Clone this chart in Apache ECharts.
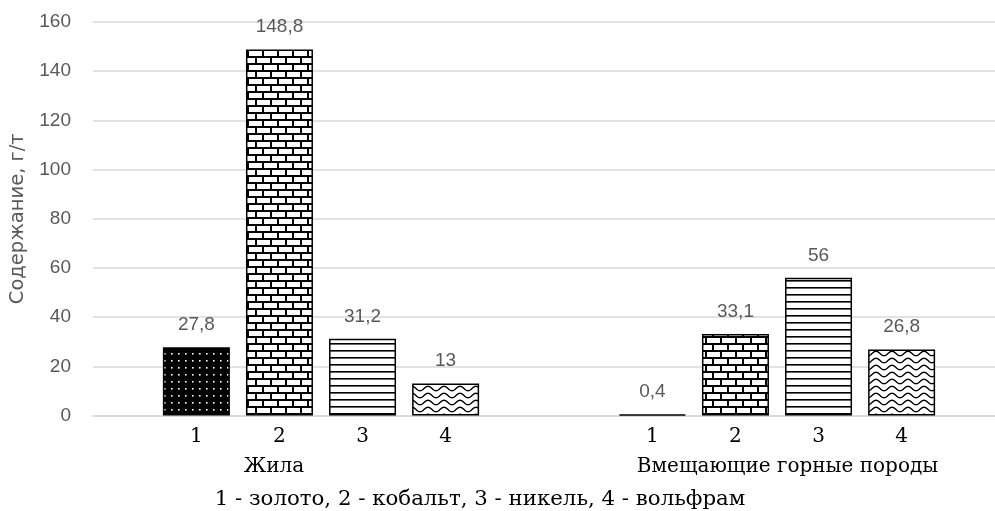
<!DOCTYPE html>
<html>
<head>
<meta charset="utf-8">
<script src="https://cdn.jsdelivr.net/npm/echarts@6/dist/echarts.min.js"></script>
<style>
  html, body { margin: 0; padding: 0; background: #fff; overflow: hidden; }
  #chart { width: 995px; height: 511px; }
</style>
</head>
<body>
<div id="chart"></div>
<script>
// Groups along the x axis and the element index shown under each bar
const groups = ['Жила', 'Вмещающие горные породы'];
const elements = ['1', '2', '3', '4'];
// Content, g/t, per element: [Жила, Вмещающие горные породы]
const gold = [27.8, 0.4];
const cobalt = [148.8, 33.1];
const nickel = [31.2, 56];
const tungsten = [13, 26.8];
const yTicks = { min: 0, max: 160, interval: 20 };
const caption = '1 - золото, 2 - кобальт, 3 - никель, 4 - вольфрам';
const yName = 'Содержание, г/т';

const SERIF = 'DejaVu Serif';
const SERIF_SIZE = 20;

// --- hatch fills ---
function tile(w, h, draw) {
  const c = document.createElement('canvas');
  c.width = w; c.height = h;
  const g = c.getContext('2d');
  draw(g, w, h);
  return { image: c, repeat: 'repeat' };
}
const dotsFill = tile(7, 7, (g, w, h) => {
  g.fillStyle = '#000'; g.fillRect(0, 0, w, h);
  g.fillStyle = '#fff'; g.fillRect(3, 3, 1.6, 1.6);
});
const brickFill = tile(30, 14, (g, w, h) => {
  g.fillStyle = '#fff'; g.fillRect(0, 0, w, h);
  g.fillStyle = '#000';
  g.fillRect(0, 0, w, 2);
  g.fillRect(0, 7, w, 2);
  g.fillRect(0, 0, 2, 7);
  g.fillRect(15, 0, 2, 7);
  g.fillRect(7, 7, 2, 7);
  g.fillRect(22, 7, 2, 7);
});
const lineFill = tile(8, 7, (g, w, h) => {
  g.fillStyle = '#fff'; g.fillRect(0, 0, w, h);
  g.fillStyle = '#000'; g.fillRect(0, 0, w, 1.6);
});
const waveFill = tile(16, 7, (g, w, h) => {
  g.fillStyle = '#fff'; g.fillRect(0, 0, w, h);
  g.strokeStyle = '#000'; g.lineWidth = 1.4;
  g.beginPath();
  for (let x = -1; x <= w + 1; x += 0.5) {
    const y = 3.5 + 2.2 * Math.sin((x / w) * Math.PI * 2);
    if (x === -1) g.moveTo(x, y); else g.lineTo(x, y);
  }
  g.stroke();
});

const seriesDefs = [
  { name: elements[0], data: gold, fill: dotsFill },
  { name: elements[1], data: cobalt, fill: brickFill },
  { name: elements[2], data: nickel, fill: lineFill },
  { name: elements[3], data: tungsten, fill: waveFill }
];

const valueFmt = p => String(p.value).replace('.', ',');

const chart = echarts.init(document.getElementById('chart'));
chart.setOption({
  animation: false,
  backgroundColor: '#fff',
  title: {
    text: caption,
    left: 475,
    top: 484,
    textAlign: 'center',
    textStyle: { fontFamily: SERIF, fontSize: 21.3, fontWeight: 'normal', color: '#000' }
  },
  // plot area runs slightly past the right edge of the canvas
  grid: { left: 93, width: 912, top: 22, bottom: 95.5, outerBoundsMode: 'none', containLabel: false },
  xAxis: [
    {
      type: 'category',
      data: groups,
      axisLine: { lineStyle: { color: '#d9d9d9', width: 1.5 } },
      axisTick: { show: false },
      axisLabel: {
        margin: 41,
        interval: 0,
        hideOverlap: false,
        fontFamily: SERIF,
        fontSize: SERIF_SIZE,
        color: '#000',
        formatter: (v, i) => '{g' + i + '|' + v + '}',
        rich: {
          g0: { fontFamily: SERIF, fontSize: SERIF_SIZE, color: '#000', padding: [0, 94, 0, 0] },
          g1: { fontFamily: SERIF, fontSize: SERIF_SIZE, color: '#000', padding: [0, 0, 0, 21] }
        }
      }
    }
  ],
  yAxis: {
    type: 'value',
    min: yTicks.min,
    max: yTicks.max,
    interval: yTicks.interval,
    name: yName,
    nameLocation: 'middle',
    nameGap: 65,
    nameTextStyle: { fontFamily: 'DejaVu Sans', fontSize: 19.5, color: '#595959' },
    axisLine: { show: false },
    axisTick: { show: false },
    axisLabel: { margin: 22, fontFamily: 'Liberation Sans', fontSize: 19, color: '#595959' },
    splitLine: { lineStyle: { color: '#d9d9d9', width: 1.5 } }
  },
  series: seriesDefs.map(s => ({
    type: 'bar',
    name: s.name,
    data: s.data,
    barWidth: 67,
    barGap: '24%',
    itemStyle: { color: s.fill, borderColor: '#000', borderWidth: 1.5 },
    label: {
      show: true,
      position: 'top',
      distance: 13,
      formatter: valueFmt,
      fontFamily: 'Liberation Sans',
      fontSize: 19,
      color: '#595959'
    },
    markPoint: {
      symbol: 'rect',
      symbolSize: 1,
      itemStyle: { color: 'rgba(0,0,0,0)' },
      label: {
        show: true,
        position: 'bottom',
        distance: 11,
        formatter: () => s.name,
        fontFamily: SERIF,
        fontSize: SERIF_SIZE,
        color: '#000'
      },
      data: groups.map((g, i) => ({ coord: [i, 0] }))
    }
  }))
});
</script>
</body>
</html>
